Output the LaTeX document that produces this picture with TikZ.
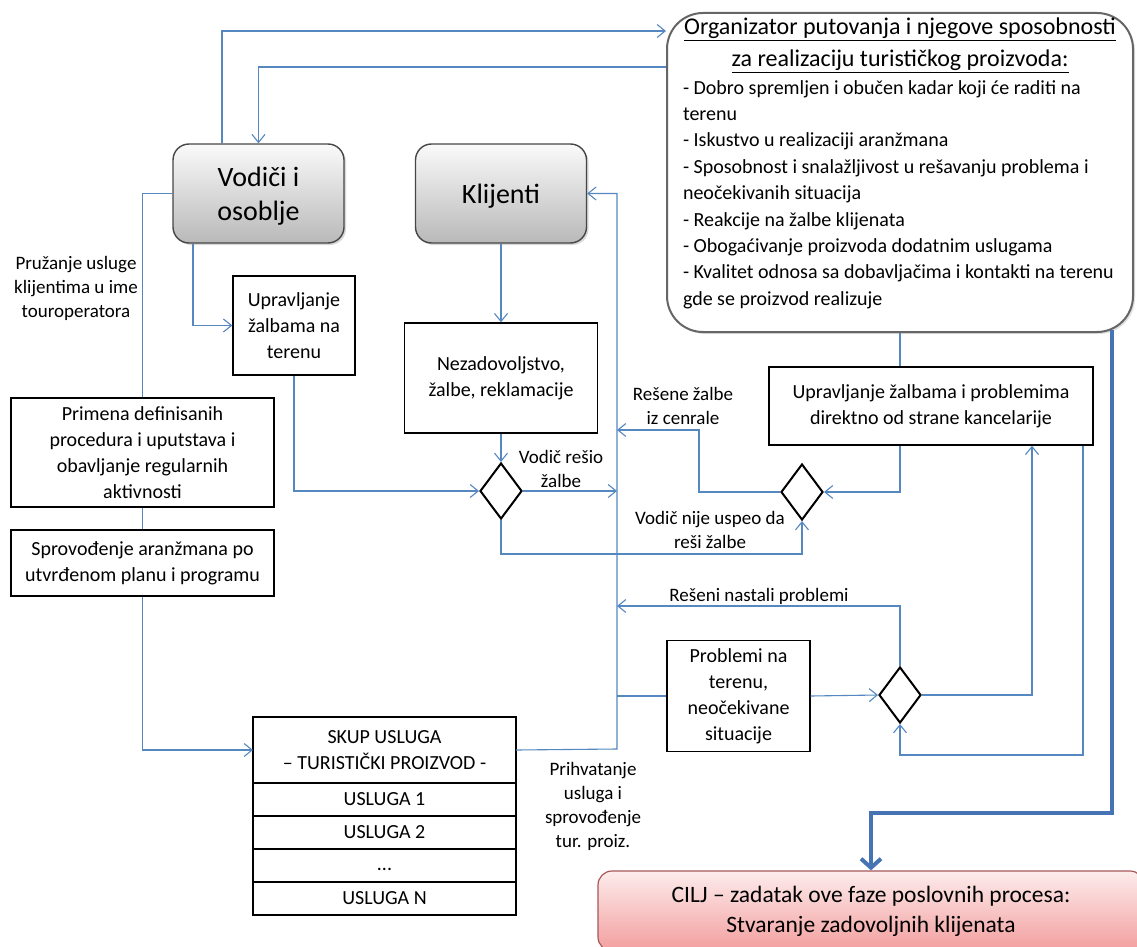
\documentclass[tikz,border=0pt]{standalone}
\usepackage{fontspec}
\setmainfont{Carlito}
\usetikzlibrary{positioning,shapes.geometric,arrows.meta,shadows}

\definecolor{lineblue}{RGB}{85,135,192}
\definecolor{darkblue}{RGB}{70,115,180}
\definecolor{edgegray}{RGB}{70,70,70}
\definecolor{pinktop}{RGB}{253,236,236}
\definecolor{pinkbot}{RGB}{243,158,158}

\tikzset{
	box/.style={draw=black, line width=1.4pt, fill=white, align=center, inner sep=2pt, font=\fontsize{20}{26}\selectfont},
	actor/.style={draw=edgegray, line width=1.4pt, rounded corners=16pt, top color=gray!4, bottom color=gray!55, drop shadow={opacity=0.3,shadow xshift=2pt,shadow yshift=-2pt}, align=center, text depth=0pt, minimum width=171pt, minimum height=99pt, font=\fontsize{28}{34}\selectfont},
	org/.style={draw=gray!80!black, line width=2pt, rounded corners=36pt, fill=white, drop shadow={opacity=0.25,shadow xshift=2pt,shadow yshift=-2pt}, align=left, minimum width=466pt, minimum height=319pt, inner sep=0pt, font=\fontsize{20}{26.4}\selectfont},
	goal/.style={draw=red!30!gray, line width=1.2pt, rounded corners=14pt, top color=pinktop, bottom color=pinkbot, align=center, minimum width=546pt, minimum height=80pt, font=\fontsize{23.5}{30}\selectfont},
	choice/.style={diamond, draw=black, line width=2pt, fill=white, inner sep=0pt, minimum width=42pt, minimum height=56pt},
	row/.style={box, outer sep=0pt, line width=1.8pt, minimum width=263pt, minimum height=33pt},
	lbl/.style={align=center, inner sep=0pt, font=\fontsize{19}{24}\selectfont},
	link/.style={draw=lineblue, line width=1.1pt},
	flow/.style={link, -{Straight Barb[length=8pt,width=13pt]}},
	bigflow/.style={draw=darkblue, line width=4pt, -{Straight Barb[length=9pt,width=20pt]}}
}

\begin{document}
\begin{tikzpicture}[x=1pt,y=-1pt]
\useasboundingbox (0,0) rectangle (1137,947);
\clip (0,0) rectangle (1137,947);

\node[actor] (vod) at (258.5,193.5) {Vodiči i\\osoblje};
\node[actor] (kli) at (501,193.5) {Klijenti};
\node[org] (org) at (900,172.5) {\makebox[434pt]{\fontsize{24}{32}\selectfont\underline{Organizator putovanja i njegove sposobnosti}}\\[6pt]
	\makebox[434pt]{\fontsize{24}{32}\selectfont\underline{za realizaciju turističkog proizvoda:}}\\[1pt]
	- Dobro spremljen i obučen kadar koji će raditi na\\
	terenu\\
	- Iskustvo u realizaciji aranžmana\\
	- Sposobnost i snalažljivost u rešavanju problema i\\
	neočekivanih situacija\\
	- Reakcije na žalbe klijenata\\
	- Obogaćivanje proizvoda dodatnim uslugama\\
	- Kvalitet odnosa sa dobavljačima i kontakti na terenu\\
	gde se proizvod realizuje\rule[-22pt]{0pt}{0pt}};

\node[box, minimum width=122pt, minimum height=99pt] (upr) at (294,325.5) {Upravljanje\\žalbama na\\terenu};
\node[box, minimum width=193pt, minimum height=110pt] (nez) at (501,378) {Nezadovoljstvo,\\žalbe, reklamacije};
\node[box, minimum width=263pt, minimum height=109pt] (pri) at (142.5,452.5) {Primena definisanih\\procedura i uputstava i\\obavljanje regularnih\\aktivnosti};
\node[box, minimum width=263pt, minimum height=66pt] (spr) at (142.5,563) {Sprovođenje aranžmana po\\utvrđenom planu i programu};
\node[box, minimum width=324pt, minimum height=78pt] (kan) at (931,406) {Upravljanje žalbama i problemima\\direktno od strane kancelarije};
\node[box, minimum width=143pt, minimum height=111pt] (pro) at (738.5,696) {Problemi na\\terenu,\\neočekivane\\situacije};

\node[choice] (d1) at (501,491) {};
\node[choice] (d2) at (802,492) {};
\node[choice] (d3) at (900,695) {};

\node[row, minimum height=66pt] (skup) at (384.5,750) {SKUP USLUGA\\– TURISTIČKI PROIZVOD -};
\node[row, below=0pt of skup] (us1) {USLUGA 1};
\node[row, below=0pt of us1] (us2) {USLUGA 2};
\node[row, below=0pt of us2] (usd) {\strut...};
\node[row, below=0pt of usd] (usn) {USLUGA N};

\node[goal] (cilj) at (871,911) {CILJ – zadatak ove faze poslovnih procesa:\\Stvaranje zadovoljnih klijenata};

\node[lbl] (lpru) at (76,288) {Pružanje usluge\\klijentima u ime\\touroperatora};
\node[lbl] (lres) at (561,469) {Vodič rešio\\žalbe};
\node[lbl] (lcen) at (683,406) {Rešene žalbe\\iz cenrale};
\node[lbl] (lnij) at (710,530) {Vodič nije uspeo da\\reši žalbe};
\node[lbl] (lnas) at (759,596) {Rešeni nastali problemi};
\node[lbl] (lpri) at (593,806) {Prihvatanje\\usluga i\\sprovođenje\\tur. proiz.};

\coordinate (busb) at (617,749);
\coordinate (bust) at (617,193.5);
\coordinate (orgc) at (1112,330);

\draw[flow] (vod.north -| 222,0) |- (org.west |- 0,31);
\draw[flow] (org.west |- 0,67) -| (vod.north);
\draw[link] (vod.west) -| (pri.north);
\draw[link] (pri.south) -- (spr.north);
\draw[flow] (spr.south) |- (skup.west);
\draw[flow] ([xshift=-65.5pt]vod.south) |- (upr.west);
\draw[flow] (kli.south) -- (nez.north);
\draw[flow] (upr.south) |- (d1.west);
\draw[flow] (nez.south) -- (d1.north);
\draw[flow] (d1.east) -- (d1.east -| busb);
\draw[flow] (d1.south) -- ++(0,34) -| (d2.south);
\draw[flow] (d2.west) -| (699,430) -- (busb |- 0,430);
\draw[link] (org.south) -- (org.south |- kan.north);
\draw[flow] (org.south |- kan.south) |- (d2.east);
\draw[flow] (skup.east) -- (busb) -- (bust) -- (kli.east);
\draw[link] (busb |- pro.west) -- (pro.west);
\draw[flow] (pro.east) -- (d3.west);
\draw[flow] (d3.north) |- (busb |- 0,606);
\draw[flow] (d3.east) -| (kan.south -| 1032,0);
\draw[flow] (kan.south -| 1083,0) -- (1083,755) -| (d3.south);
\draw[bigflow] (orgc) |- (871,813) -- (cilj.north);
\end{tikzpicture}
\end{document}
